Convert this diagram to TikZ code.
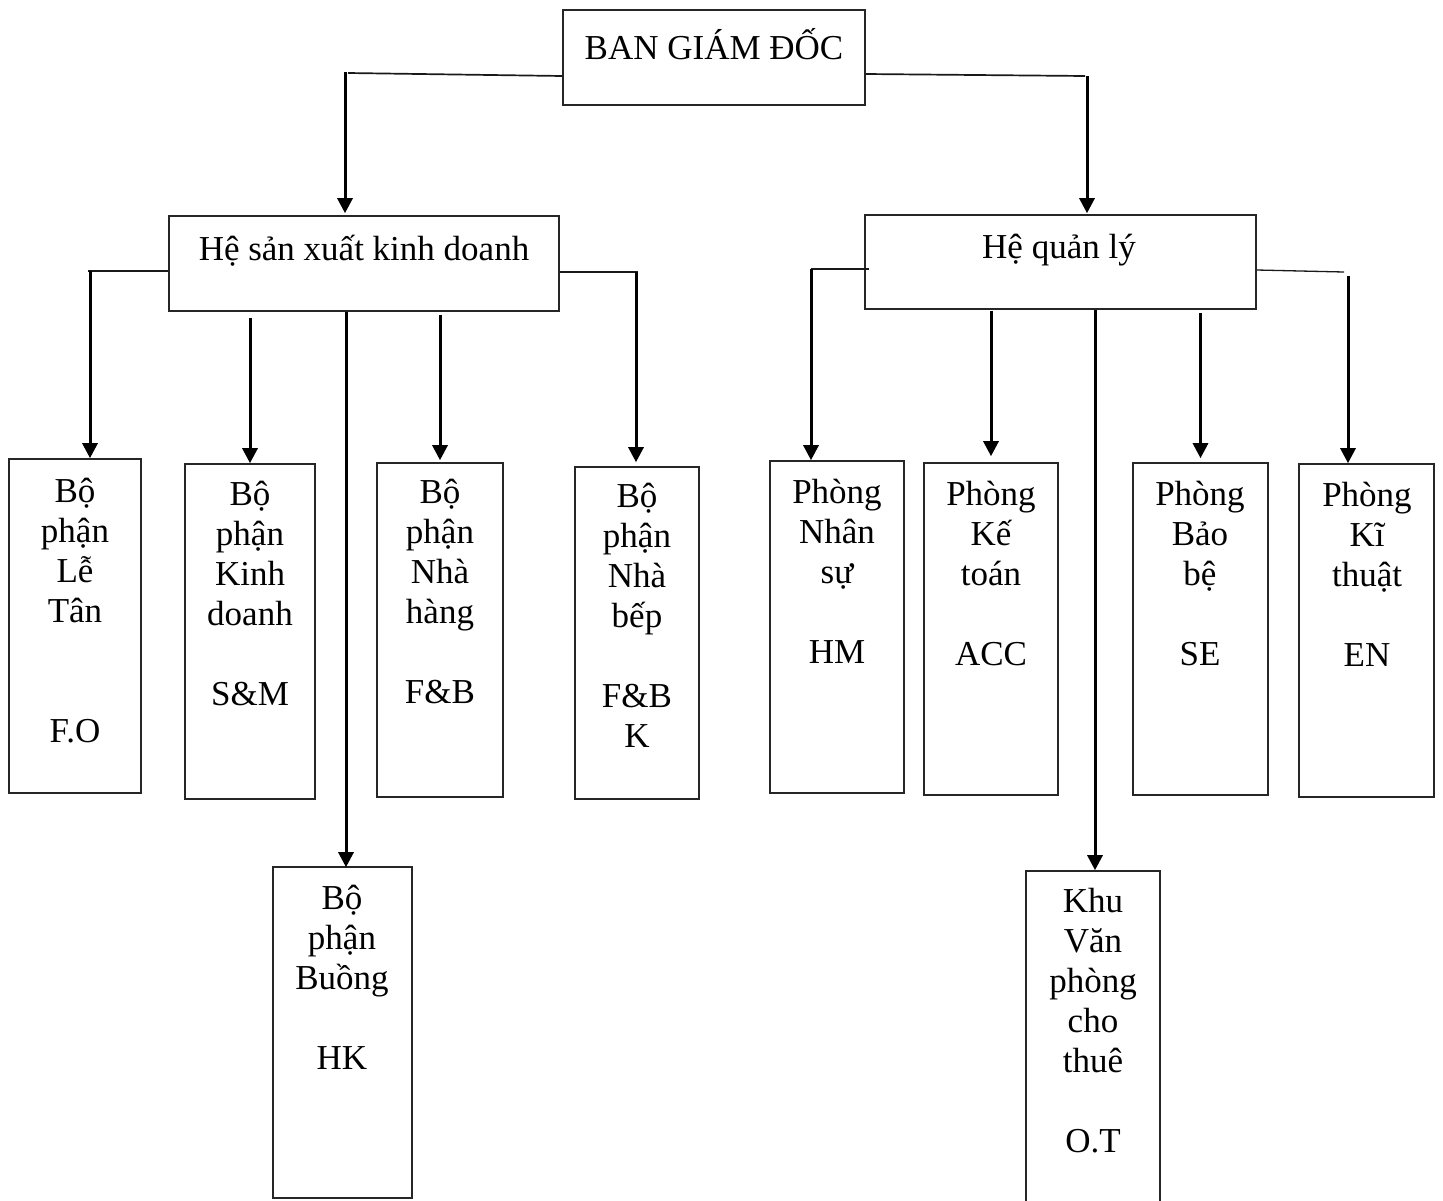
\documentclass[tikz,border=0pt]{standalone}
\usepackage{fontspec}
\setmainfont{Liberation Serif}
\usetikzlibrary{arrows.meta,calc}
\begin{document}
\begin{tikzpicture}[x=1pt,y=-1pt,
  box/.style={draw=black!85,line width=1.6pt,rectangle,inner sep=0pt,fill=none},
  txt/.style={font=\fontsize{35}{40}\selectfont,inner sep=0pt},
  mtxt/.style={font=\fontsize{35}{40}\selectfont,inner sep=0pt,align=center,anchor=north},
  conn/.style={line width=1.7pt,black!90},
  arr/.style={line width=3pt,black,-{Triangle[length=15pt,width=15pt]}}]
\useasboundingbox (0,0) rectangle (1443,1200);
% boxes
\node[box,minimum width=302pt,minimum height=95pt] (bgd) at (714,57.5) {};
\node[box,minimum width=390pt,minimum height=95pt] (sx) at (364,263.5) {};
\node[box,minimum width=391pt,minimum height=94pt] (ql) at (1060.5,262) {};
\node[box,minimum width=132pt,minimum height=334pt] (lt) at (75,626) {};
\node[box,minimum width=130pt,minimum height=335pt] (kd) at (250,631.5) {};
\node[box,minimum width=126pt,minimum height=334pt] (nh) at (440,630) {};
\node[box,minimum width=124pt,minimum height=332pt] (nb) at (637,633) {};
\node[box,minimum width=139pt,minimum height=331pt] (bu) at (342.5,1032.5) {};
\node[box,minimum width=134pt,minimum height=332pt] (ns) at (837,627) {};
\node[box,minimum width=134pt,minimum height=332pt] (kt) at (991,629) {};
\node[box,minimum width=135pt,minimum height=332pt] (bv) at (1200.5,629) {};
\node[box,minimum width=135pt,minimum height=333pt] (kth) at (1366.5,630.5) {};
\node[box,minimum width=134pt,minimum height=344pt] (kvp) at (1093,1043) {};
% texts
\node[txt,anchor=base] (bgd-t) at (714,59) {BAN GIÁM ĐỐC};
\node[txt,anchor=base] (sx-t) at (364,260) {Hệ sản xuất kinh doanh};
\node[txt,anchor=base] (ql-t) at (1059,258) {Hệ quản lý};
\node[mtxt] (lt-t) at (75,474) {\strut Bộ\\phận\\Lễ\\Tân\\\strut\\\strut\\F.O};
\node[mtxt] (kd-t) at (250,477) {\strut Bộ\\phận\\Kinh\\doanh\\\strut\\S\&M};
\node[mtxt] (nh-t) at (440,475) {\strut Bộ\\phận\\Nhà\\hàng\\\strut\\F\&B};
\node[mtxt] (nb-t) at (637,479) {\strut Bộ\\phận\\Nhà\\bếp\\\strut\\F\&B\\K};
\node[mtxt] (bu-t) at (342,881) {\strut Bộ\\phận\\Buồng\\\strut\\HK};
\node[mtxt] (ns-t) at (837,475) {\strut Phòng\\Nhân\\sự\\\strut\\HM};
\node[mtxt] (kt-t) at (991,477) {\strut Phòng\\Kế\\toán\\\strut\\ACC};
\node[mtxt] (bv-t) at (1200,477) {\strut Phòng\\Bảo\\bệ\\\strut\\SE};
\node[mtxt] (kth-t) at (1367,478) {\strut Phòng\\Kĩ\\thuật\\\strut\\EN};
\node[mtxt] (kvp-t) at (1093,884) {\strut Khu\\Văn\\phòng\\cho\\thuê\\\strut\\O.T};
% connector corners
\coordinate (c1) at (345,72);
\coordinate (c2) at (1087,76);
\coordinate (c3) at (90,271);
\coordinate (c4) at (636,272);
\coordinate (c5) at (811,269);
\coordinate (c6) at (1344,272);
\coordinate (c7) at (1348,276);
% top level
\draw[conn] ([yshift=-18.5pt]bgd.west) -- (348,73);
\draw[arr,shorten >=2pt] (c1) -- (c1 |- sx.north);
\draw[conn] ([yshift=-16.5pt]bgd.east) -- (1085,76);
\draw[arr,shorten >=1pt] (c2) -- (c2 |- ql.north);
% production branch
\draw[conn] ([yshift=-7.5pt]sx.west) -- (88,271);
\draw[arr] (c3) -- (c3 |- lt.north);
\draw[conn] ([yshift=-8.5pt]sx.east) -- (638,272);
\draw[arr,shorten >=4pt] (c4) -- (c4 |- nb.north);
\draw[arr] ([yshift=-6pt]sx.south -| kd.north) -- (kd.north);
\draw[arr,shorten >=2pt] ([yshift=-3pt]sx.south -| nh.north) -- (nh.north);
\draw[arr] ([xshift=3.5pt]bu.north |- sx.south) -- ([xshift=3.5pt,yshift=-1pt]bu.north);
% management branch
\draw[conn] ([xshift=5pt,yshift=-7pt]ql.west) -- (c5);
\draw[arr] (c5) -- (c5 |- ns.north);
\draw[arr,shorten >=6pt] ([yshift=-1pt]ql.south -| kt.north) -- (kt.north);
\draw[arr] ([xshift=2pt]kvp.north |- ql.south) -- ([xshift=2pt]kvp.north);
\draw[arr,shorten >=4pt] ([yshift=-3pt]ql.south -| bv.north) -- (bv.north);
\draw[conn,line width=1.3pt] ([yshift=-8pt]ql.east) -- (c6);
\draw[arr] (c7) -- (c7 |- kth.north);
\end{tikzpicture}
\end{document}
